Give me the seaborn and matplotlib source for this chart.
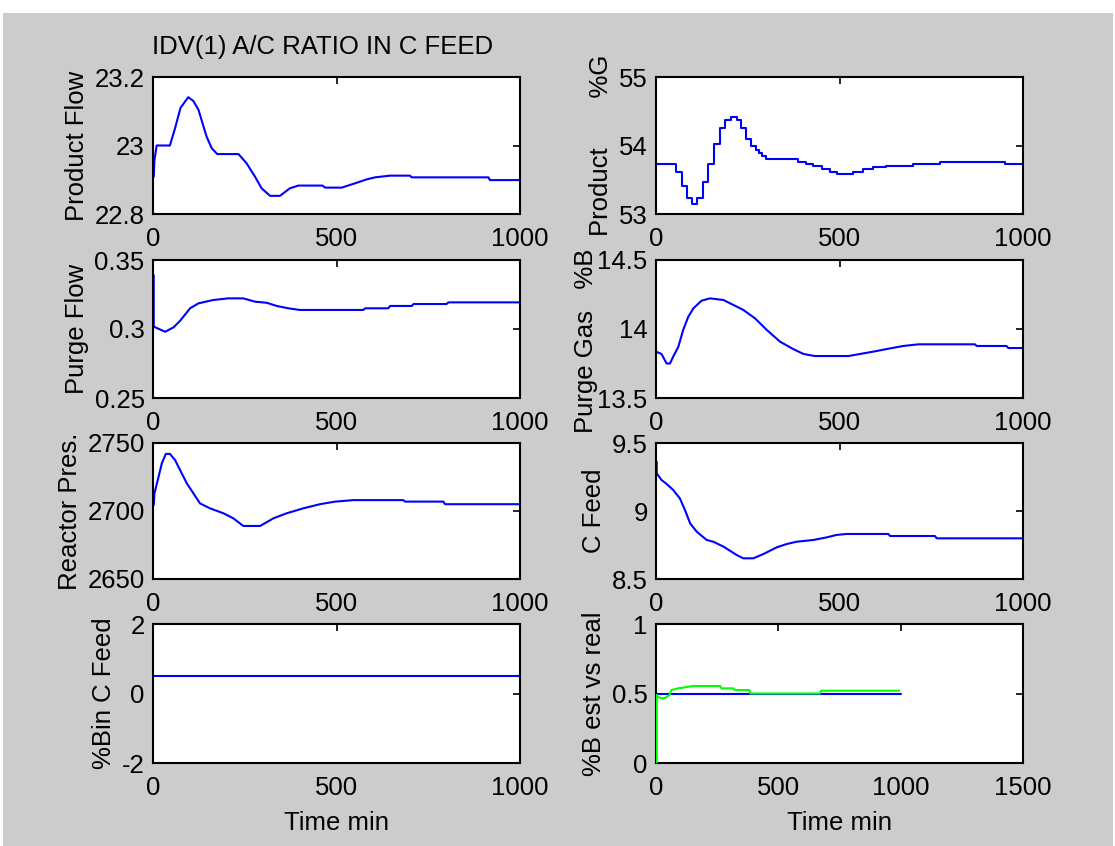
import matplotlib
matplotlib.use("Agg")
import matplotlib.pyplot as plt
from matplotlib.patches import Rectangle
import seaborn as sns
import pandas as pd

# ---------------- data ----------------
title_text = "IDV(1) A/C RATIO IN C FEED"

pf_t = [2, 4, 10, 46, 60, 75, 96, 110, 124, 146, 160, 175, 233, 255, 278, 296, 319, 346, 373, 396, 462, 469, 514, 546, 582, 605, 646, 700, 705, 914, 918, 1000]
pf_v = [22.909, 22.958, 23.0, 23.0, 23.05, 23.11, 23.141, 23.13, 23.104, 23.026, 22.992, 22.975, 22.975, 22.948, 22.909, 22.875, 22.853, 22.853, 22.875, 22.883, 22.883, 22.877, 22.877, 22.888, 22.901, 22.907, 22.912, 22.912, 22.907, 22.907, 22.899, 22.899]

pg_t = [0, 55, 70, 84, 99, 112, 128, 142, 158, 174, 189, 205, 220, 232, 245, 260, 272, 280, 290, 300, 383, 387, 410, 429, 451, 474, 492, 538, 565, 592, 628, 701, 774, 951, 1000]
pg_v = [53.73, 53.62, 53.41, 53.24, 53.15, 53.24, 53.47, 53.73, 54.02, 54.25, 54.37, 54.41, 54.37, 54.25, 54.10, 53.99, 53.93, 53.89, 53.84, 53.80, 53.80, 53.76, 53.73, 53.70, 53.65, 53.62, 53.58, 53.62, 53.65, 53.68, 53.70, 53.73, 53.76, 53.73, 53.73]

pu_t = [2, 2, 33, 56, 74, 101, 124, 164, 205, 246, 278, 310, 337, 369, 400, 573, 578, 641, 646, 705, 710, 800, 805, 1000]
pu_v = [0.339, 0.3017, 0.298, 0.3012, 0.306, 0.315, 0.3186, 0.321, 0.3222, 0.3222, 0.3198, 0.319, 0.3167, 0.315, 0.3138, 0.3138, 0.315, 0.315, 0.3167, 0.3167, 0.3181, 0.3181, 0.3193, 0.3193]

pb_t = [0, 15, 29, 38, 47, 61, 74, 88, 102, 124, 147, 184, 211, 238, 270, 302, 338, 375, 402, 433, 524, 556, 592, 633, 674, 715, 869, 874, 955, 960, 1000]
pb_v = [13.836, 13.819, 13.75, 13.75, 13.80, 13.872, 13.993, 14.089, 14.15, 14.205, 14.222, 14.21, 14.174, 14.138, 14.077, 13.993, 13.908, 13.853, 13.819, 13.804, 13.804, 13.819, 13.836, 13.857, 13.877, 13.889, 13.889, 13.877, 13.877, 13.862, 13.862]

rp_t = [2, 4, 15, 24, 35, 46, 60, 74, 92, 110, 128, 155, 192, 219, 246, 292, 328, 364, 410, 455, 496, 546, 682, 687, 791, 796, 1000]
rp_v = [2704.4, 2713, 2725, 2735, 2742, 2742, 2737.5, 2730, 2720.4, 2713, 2705.6, 2702, 2698.3, 2694.6, 2689, 2689, 2694.6, 2698.3, 2702, 2705, 2706.9, 2708, 2708, 2706.9, 2706.9, 2705, 2705]

cf_t = [2, 2, 15, 29, 47, 65, 79, 93, 111, 138, 156, 184, 220, 238, 265, 293, 329, 356, 383, 429, 465, 492, 519, 633, 638, 760, 765, 1000]
cf_v = [9.363, 9.277, 9.228, 9.199, 9.154, 9.093, 9.007, 8.909, 8.848, 8.787, 8.774, 8.738, 8.676, 8.652, 8.652, 8.684, 8.733, 8.757, 8.774, 8.787, 8.806, 8.824, 8.831, 8.831, 8.816, 8.816, 8.799, 8.799]

bin_t = [0, 1000]
bin_v = [0.5, 0.5]

real_t = [0, 1000]
real_v = [0.5, 0.5]
est_t = [3, 3, 5, 23, 40, 55, 63, 90, 153, 262, 268, 316, 322, 381, 386, 670, 675, 994]
est_v = [0.0, 0.49, 0.477, 0.465, 0.47, 0.49, 0.525, 0.537, 0.554, 0.554, 0.537, 0.537, 0.525, 0.525, 0.5, 0.5, 0.52, 0.52]

xticks_main = [0, 500, 1000]
xticks_last = [0, 500, 1000, 1500]

panels = [
    (pf_t, pf_v, "Product Flow", (22.8, 23.2), [22.8, 23.0, 23.2], ["22.8", "23", "23.2"]),
    (pg_t, pg_v, "Product       %G", (53, 55), [53, 54, 55], ["53", "54", "55"]),
    (pu_t, pu_v, "Purge Flow", (0.25, 0.35), [0.25, 0.30, 0.35], ["0.25", "0.3", "0.35"]),
    (pb_t, pb_v, "Purge Gas   %B", (13.5, 14.5), [13.5, 14.0, 14.5], ["13.5", "14", "14.5"]),
    (rp_t, rp_v, "Reactor Pres.", (2650, 2750), [2650, 2700, 2750], ["2650", "2700", "2750"]),
    (cf_t, cf_v, "C Feed", (8.5, 9.5), [8.5, 9.0, 9.5], ["8.5", "9", "9.5"]),
    (bin_t, bin_v, "%Bin C Feed", (-2, 2), [-2, 0, 2], ["-2", "0", "2"]),
    (real_t, real_v, "%B est vs real", (0, 1), [0, 0.5, 1], ["0", "0.5", "1"]),
]

# ---------------- style ----------------
sns.set_style("white")
plt.rcParams["font.family"] = ["Liberation Sans", "DejaVu Sans"]
plt.rcParams["text.color"] = "black"
plt.rcParams["axes.labelcolor"] = "black"
FS = 18.5

W, H = 1115, 846
fig = plt.figure(figsize=(W / 100, H / 100), dpi=100, facecolor="white")
fig.patches.append(Rectangle((3 / W, 0), (W - 5) / W, 1 - 13 / H, transform=fig.transFigure,
                             facecolor="#cccccc", edgecolor="none", zorder=-10))

col_x = [153, 656]
col_w = 367
rows = [(77, 214), (260, 398), (443, 579), (624, 763)]

for i, (t, v, ylab, ylim, yt, ytl) in enumerate(panels):
    r, c = divmod(i, 2)
    top, bot = rows[r]
    ax = fig.add_axes([col_x[c] / W, 1 - bot / H, col_w / W, (bot - top) / H])
    ax.set_facecolor("white")
    df = pd.DataFrame({"t": t, "v": v})
    kw = {}
    if i == 1:
        kw["drawstyle"] = "steps-post"
    sns.lineplot(data=df, x="t", y="v", ax=ax, color="#0000ff", linewidth=1.5,
                 estimator=None, sort=False, **kw)
    if i == 7:
        dfe = pd.DataFrame({"t": est_t, "v": est_v})
        sns.lineplot(data=dfe, x="t", y="v", ax=ax, color="#00ff00", linewidth=1.5,
                     estimator=None, sort=False, zorder=3)
        ax.set_xlim(0, 1500)
        ax.set_xticks(xticks_last)
        ax.set_xticklabels([str(x) for x in xticks_last])
    else:
        ax.set_xlim(0, 1000)
        ax.set_xticks(xticks_main)
        ax.set_xticklabels([str(x) for x in xticks_main])
    ax.set_ylim(*ylim)
    ax.set_yticks(yt)
    ax.set_yticklabels(ytl)
    ax.set_ylabel(ylab, fontsize=FS, labelpad=4, color="black")
    if r == 3:
        ax.set_xlabel("Time min", fontsize=FS, labelpad=8, color="black")
    else:
        ax.set_xlabel("")
    ax.tick_params(direction="in", top=True, right=True, length=5, width=1.2,
                   labelsize=FS, pad=6, colors="black")
    ax.tick_params(axis="x", pad=9)
    for s in ax.spines.values():
        s.set_visible(True)
        s.set_color("black")
        s.set_linewidth(1.5)
    if i == 3:
        ax.yaxis.set_label_coords(-0.158, 0.415)

fig.text(152 / W, 1 - 47 / H, title_text, fontsize=FS, ha="left", va="center", color="black")

fig.savefig("out.png", dpi=100, facecolor=fig.get_facecolor())
